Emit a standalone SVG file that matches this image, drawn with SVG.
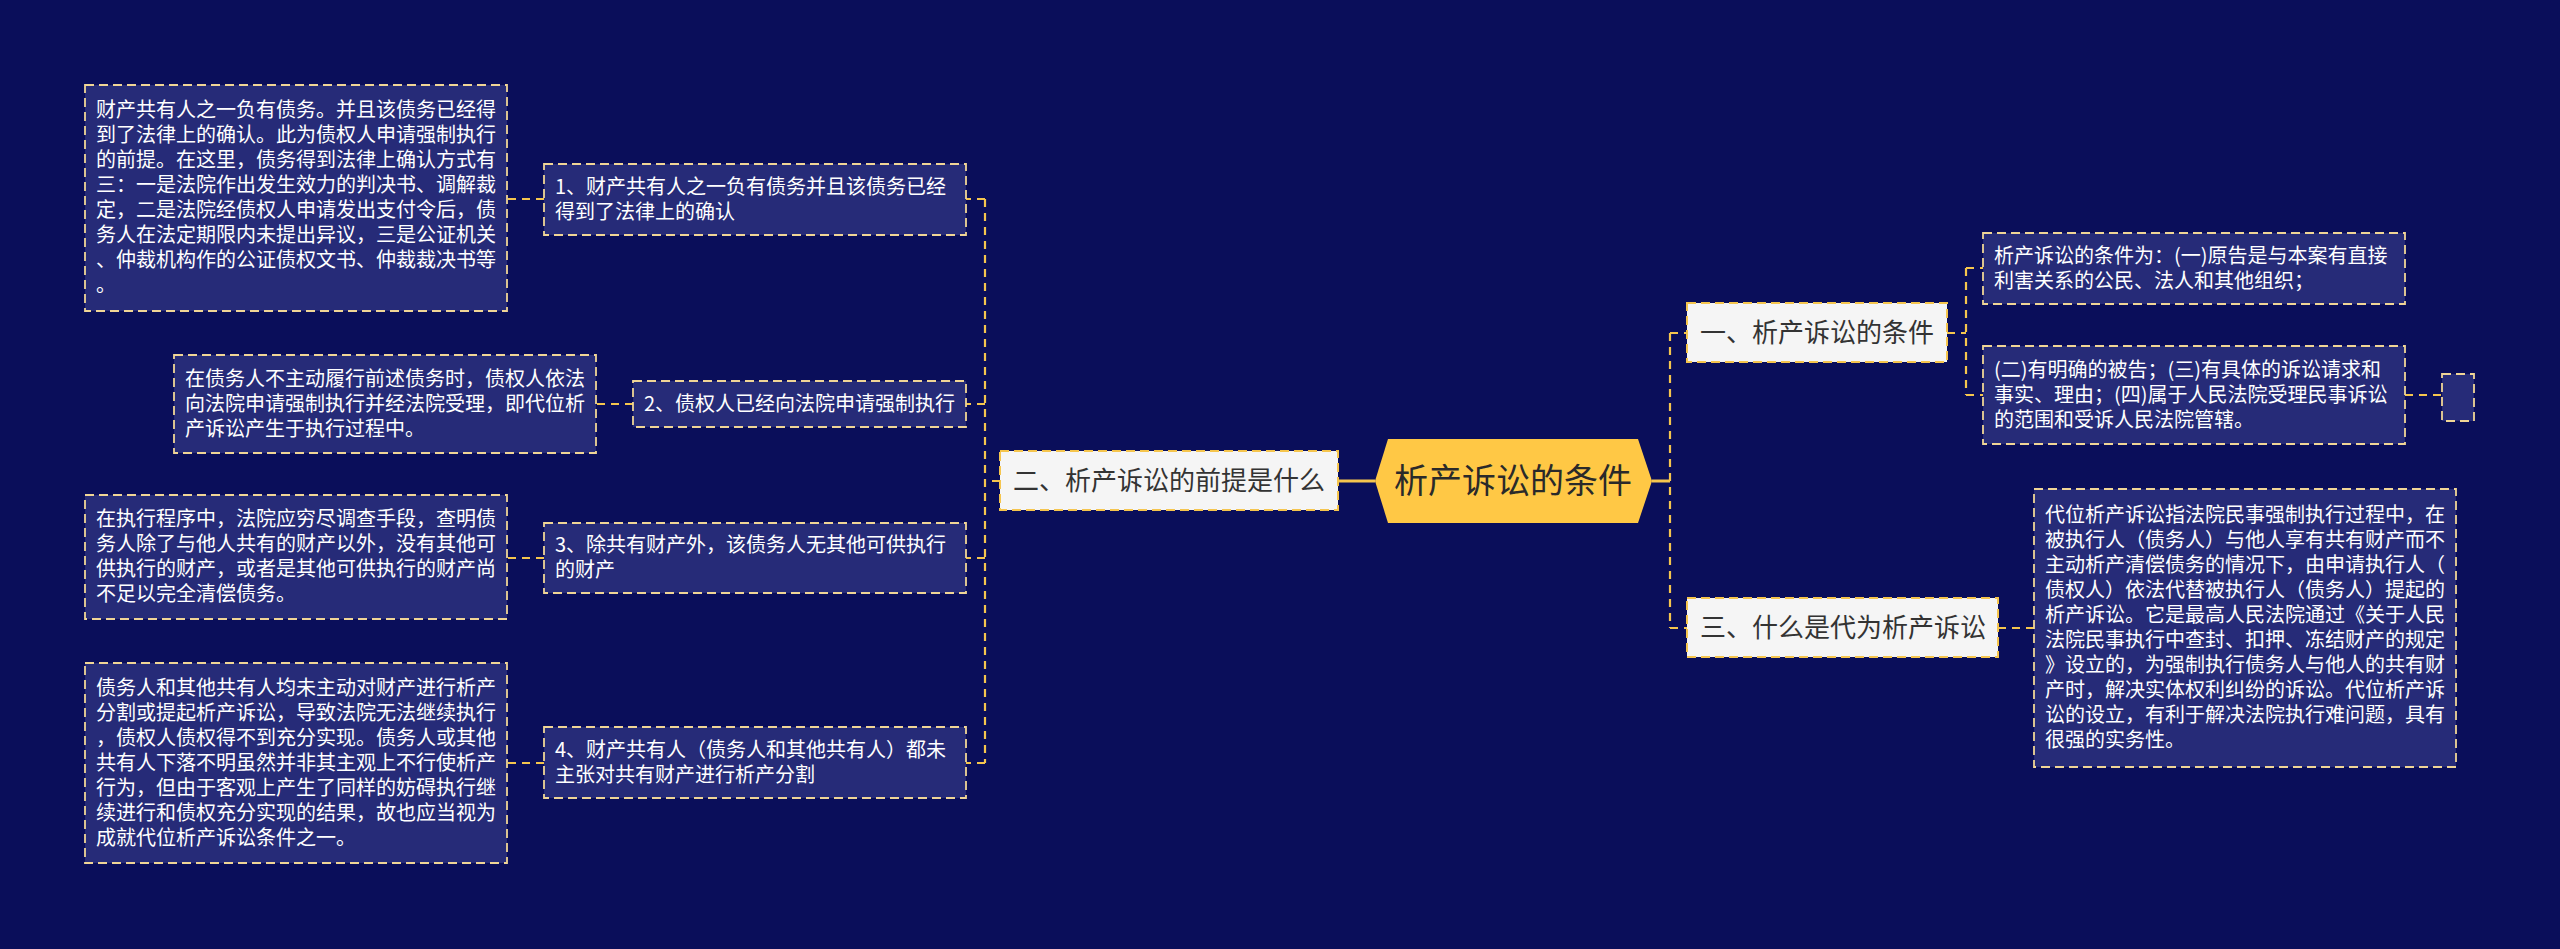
<svg xmlns="http://www.w3.org/2000/svg" width="2560" height="949" viewBox="0 0 2560 949">
<style>
.bg{fill:#0A0E5A}
.leaf{fill:#262B78;stroke:#F0D596;stroke-width:1.8;stroke-dasharray:9 5}
.topic{fill:#F5F5F5;stroke:#F5C54E;stroke-width:2;stroke-dasharray:9 5}
.lt{font-family:"Noto Sans CJK SC","Noto Sans",sans-serif;font-size:20px;fill:#FFFFFF}
.tt{font-family:"Noto Sans CJK SC","Noto Sans",sans-serif;font-size:26px;fill:#333333}
.ct{font-family:"Noto Sans CJK SC","Noto Sans",sans-serif;font-size:34px;fill:#2A2A2A}
.con{fill:none;stroke:#F5C54E;stroke-width:2.2;stroke-dasharray:8 6}
.main{fill:none;stroke:#F5C54E;stroke-width:3}
</style>
<rect class="bg" x="0" y="0" width="2560" height="949"/>

<g id="connectors">
  <path class="main" d="M1338 481 H1375"/>
  <path class="main" d="M1652 481 H1670"/>
  <path class="con" d="M1670 333 V628"/>
  <path class="con" d="M1670 333 H1687"/>
  <path class="con" d="M1670 628 H1687"/>
  <path class="con" d="M1000 481 H985"/>
  <path class="con" d="M985 199 V763"/>
  <path class="con" d="M985 199 H966"/>
  <path class="con" d="M985 404 H966"/>
  <path class="con" d="M985 558 H966"/>
  <path class="con" d="M985 763 H966"/>
  <path class="con" d="M544 199 H507"/>
  <path class="con" d="M633 404 H596"/>
  <path class="con" d="M544 558 H507"/>
  <path class="con" d="M544 763 H507"/>
  <path class="con" d="M1947 333 H1966"/>
  <path class="con" d="M1966 268 V395"/>
  <path class="con" d="M1966 268 H1983"/>
  <path class="con" d="M1966 395 H1983"/>
  <path class="con" d="M2405 395 H2442"/>
  <path class="con" d="M1998 628 H2034"/>
</g>

<g id="root">
  <polygon points="1375,481 1388,439 1638,439 1652,481 1638,523 1388,523" fill="#FFC845"/>
  <text class="ct" x="1513" y="493" text-anchor="middle">析产诉讼的条件</text>
</g>

<g id="topic2">
  <rect class="topic" x="1000" y="451" width="338" height="59"/>
  <text class="tt" x="1013" y="490">二、析产诉讼的前提是什么</text>
</g>
<g id="topic1">
  <rect class="topic" x="1687" y="303" width="260" height="59"/>
  <text class="tt" x="1700" y="342">一、析产诉讼的条件</text>
</g>
<g id="topic3">
  <rect class="topic" x="1687" y="598" width="311" height="59"/>
  <text class="tt" x="1700" y="637">三、什么是代为析产诉讼</text>
</g>

<g id="n1">
  <rect class="leaf" x="544" y="164" width="422" height="71"/>
  <text class="lt" x="555" y="194">1、财产共有人之一负有债务并且该债务已经</text>
  <text class="lt" x="555" y="219">得到了法律上的确认</text>
</g>
<g id="n2">
  <rect class="leaf" x="633" y="381" width="333" height="46"/>
  <text class="lt" x="644" y="411">2、债权人已经向法院申请强制执行</text>
</g>
<g id="n3">
  <rect class="leaf" x="544" y="523" width="422" height="70"/>
  <text class="lt" x="555" y="552">3、除共有财产外，该债务人无其他可供执行</text>
  <text class="lt" x="555" y="577">的财产</text>
</g>
<g id="n4">
  <rect class="leaf" x="544" y="727" width="422" height="71"/>
  <text class="lt" x="555" y="757">4、财产共有人（债务人和其他共有人）都未</text>
  <text class="lt" x="555" y="782">主张对共有财产进行析产分割</text>
</g>

<g id="a1">
  <rect class="leaf" x="85" y="85" width="422" height="226"/>
  <text class="lt" x="96" y="117">财产共有人之一负有债务。并且该债务已经得</text>
  <text class="lt" x="96" y="142">到了法律上的确认。此为债权人申请强制执行</text>
  <text class="lt" x="96" y="167">的前提。在这里，债务得到法律上确认方式有</text>
  <text class="lt" x="96" y="192">三：一是法院作出发生效力的判决书、调解裁</text>
  <text class="lt" x="96" y="217">定，二是法院经债权人申请发出支付令后，债</text>
  <text class="lt" x="96" y="242">务人在法定期限内未提出异议，三是公证机关</text>
  <text class="lt" x="96" y="267">、仲裁机构作的公证债权文书、仲裁裁决书等</text>
  <text class="lt" x="96" y="292">。</text>
</g>
<g id="a2">
  <rect class="leaf" x="174" y="355" width="422" height="98"/>
  <text class="lt" x="185" y="386">在债务人不主动履行前述债务时，债权人依法</text>
  <text class="lt" x="185" y="411">向法院申请强制执行并经法院受理，即代位析</text>
  <text class="lt" x="185" y="436">产诉讼产生于执行过程中。</text>
</g>
<g id="a3">
  <rect class="leaf" x="85" y="495" width="422" height="124"/>
  <text class="lt" x="96" y="526">在执行程序中，法院应穷尽调查手段，查明债</text>
  <text class="lt" x="96" y="551">务人除了与他人共有的财产以外，没有其他可</text>
  <text class="lt" x="96" y="576">供执行的财产，或者是其他可供执行的财产尚</text>
  <text class="lt" x="96" y="601">不足以完全清偿债务。</text>
</g>
<g id="a4">
  <rect class="leaf" x="85" y="663" width="422" height="200"/>
  <text class="lt" x="96" y="695">债务人和其他共有人均未主动对财产进行析产</text>
  <text class="lt" x="96" y="720">分割或提起析产诉讼，导致法院无法继续执行</text>
  <text class="lt" x="96" y="745">，债权人债权得不到充分实现。债务人或其他</text>
  <text class="lt" x="96" y="770">共有人下落不明虽然并非其主观上不行使析产</text>
  <text class="lt" x="96" y="795">行为，但由于客观上产生了同样的妨碍执行继</text>
  <text class="lt" x="96" y="820">续进行和债权充分实现的结果，故也应当视为</text>
  <text class="lt" x="96" y="845">成就代位析产诉讼条件之一。</text>
</g>

<g id="r1">
  <rect class="leaf" x="1983" y="233" width="422" height="71"/>
  <text class="lt" x="1994" y="263">析产诉讼的条件为：(一)原告是与本案有直接</text>
  <text class="lt" x="1994" y="288">利害关系的公民、法人和其他组织；</text>
</g>
<g id="r2">
  <rect class="leaf" x="1983" y="346" width="422" height="98"/>
  <text class="lt" x="1994" y="377">(二)有明确的被告；(三)有具体的诉讼请求和</text>
  <text class="lt" x="1994" y="402">事实、理由；(四)属于人民法院受理民事诉讼</text>
  <text class="lt" x="1994" y="427">的范围和受诉人民法院管辖。</text>
</g>
<g id="r2empty">
  <rect class="leaf" x="2442" y="374" width="32" height="47"/>
</g>
<g id="r3">
  <rect class="leaf" x="2034" y="489" width="422" height="278"/>
  <text class="lt" x="2045" y="522">代位析产诉讼指法院民事强制执行过程中，在</text>
  <text class="lt" x="2045" y="547">被执行人（债务人）与他人享有共有财产而不</text>
  <text class="lt" x="2045" y="572">主动析产清偿债务的情况下，由申请执行人（</text>
  <text class="lt" x="2045" y="597">债权人）依法代替被执行人（债务人）提起的</text>
  <text class="lt" x="2045" y="622">析产诉讼。它是最高人民法院通过《关于人民</text>
  <text class="lt" x="2045" y="647">法院民事执行中查封、扣押、冻结财产的规定</text>
  <text class="lt" x="2045" y="672">》设立的，为强制执行债务人与他人的共有财</text>
  <text class="lt" x="2045" y="697">产时，解决实体权利纠纷的诉讼。代位析产诉</text>
  <text class="lt" x="2045" y="722">讼的设立，有利于解决法院执行难问题，具有</text>
  <text class="lt" x="2045" y="747">很强的实务性。</text>
</g>
</svg>
